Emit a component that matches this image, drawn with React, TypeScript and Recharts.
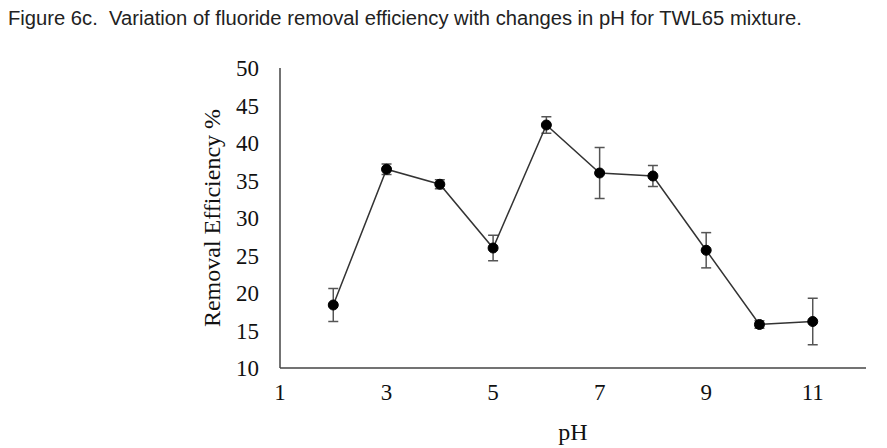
import React from 'react';
import { ErrorBar, Label, Line, LineChart, XAxis, YAxis } from 'recharts';

// pH values and measured removal efficiency (%), with error bars
const PH = [2, 3, 4, 5, 6, 7, 8, 9, 10, 11];
const EFFICIENCY = [18.4, 36.5, 34.5, 26.0, 42.4, 36.0, 35.6, 25.7, 15.8, 16.2];
const ERRORS = [2.2, 0.7, 0.6, 1.7, 1.1, 3.4, 1.4, 2.35, 0.5, 3.1];

const X_TICKS = [1, 3, 5, 7, 9, 11];
const Y_TICKS = [10, 15, 20, 25, 30, 35, 40, 45, 50];

const TITLE = 'Figure 6c.  Variation of fluoride removal efficiency with changes in pH for TWL65 mixture.';

const SERIF = '"Liberation Serif", "Times New Roman", serif';

export default function App() {
  const data = PH.map((ph, i) => ({ ph, value: EFFICIENCY[i], err: ERRORS[i] }));

  return (
    <div style={{ position: 'absolute', left: 0, top: 0, width: 887, height: 448, background: '#fff' }}>
      <div
        style={{
          position: 'absolute',
          left: 8,
          top: 7,
          fontFamily: '"Liberation Sans", Arial, sans-serif',
          fontSize: 20,
          color: '#222',
          whiteSpace: 'pre',
          transform: 'scaleX(1.01)',
          transformOrigin: 'left',
        }}
      >
        {TITLE}
      </div>
      <LineChart
        width={887}
        height={448}
        data={data}
        margin={{ top: 68, right: 21, left: 220, bottom: 0 }}
      >
        <XAxis
          dataKey="ph"
          type="number"
          domain={[1, 12]}
          ticks={X_TICKS}
          tickLine={false}
          tickMargin={10}
          height={80}
          axisLine={{ stroke: '#444', strokeWidth: 1.5 }}
          tick={{ fontFamily: SERIF, fontSize: 23, fill: '#111' }}
        >
          <Label value="pH" position="insideBottom" offset={8} style={{ fontFamily: SERIF, fontSize: 24, fill: '#111' }} />
        </XAxis>
        <YAxis
          type="number"
          domain={[10, 50]}
          ticks={Y_TICKS}
          tickLine={false}
          tickMargin={15}
          width={60}
          axisLine={{ stroke: '#444', strokeWidth: 1.5 }}
          tick={{ fontFamily: SERIF, fontSize: 23, fill: '#111' }}
        >
          <Label
            value="Removal Efficiency %"
            angle={-90}
            position="insideLeft"
            offset={-9}
            style={{ fontFamily: SERIF, fontSize: 24, fill: '#111', textAnchor: 'middle' }}
          />
        </YAxis>
        <Line
          dataKey="value"
          stroke="#333"
          strokeWidth={1.5}
          dot={{ r: 5, fill: '#000', stroke: '#000', strokeWidth: 1 }}
          isAnimationActive={false}
        >
          <ErrorBar dataKey="err" width={5} stroke="#555" strokeWidth={1.5} direction="y" />
        </Line>
      </LineChart>
    </div>
  );
}
